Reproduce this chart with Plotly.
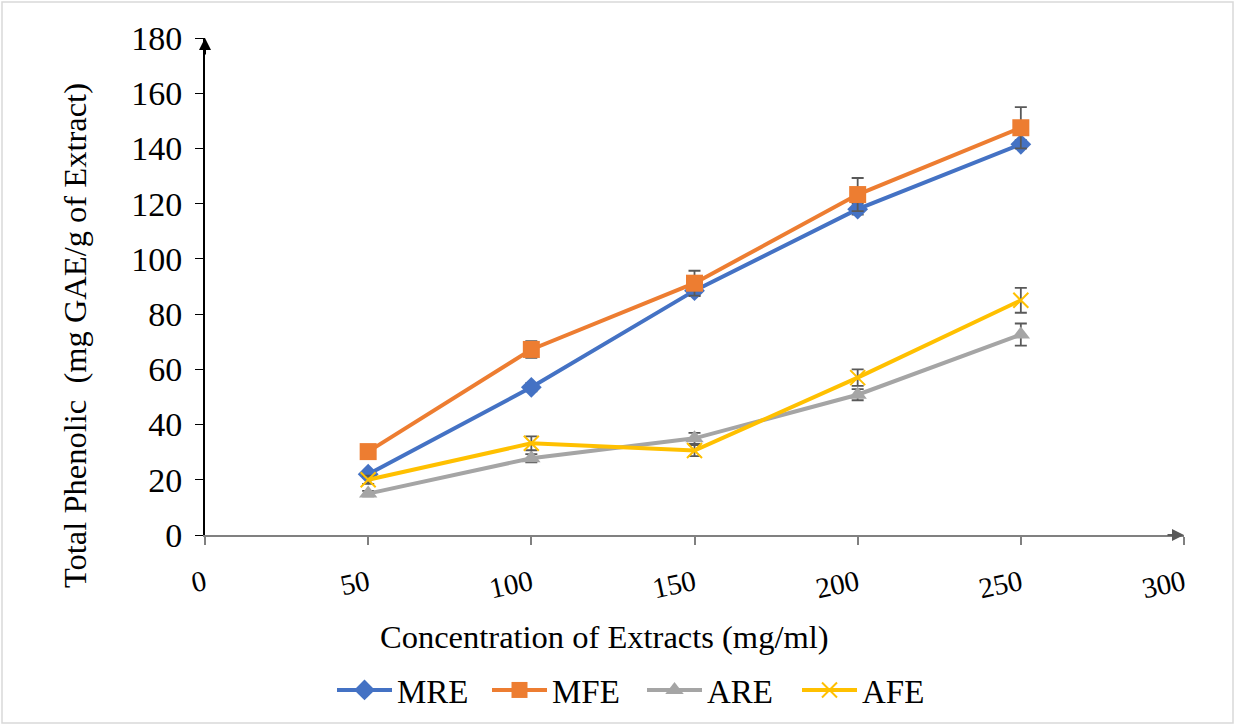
import plotly.graph_objects as go

conc = [50, 100, 150, 200, 250]
mre = [22, 53.5, 88.5, 118, 141.5]
mfe = [30.2, 67.2, 91.2, 123.3, 147.5]
are = [15, 27.8, 35, 50.8, 72.6]
afe = [20, 33.2, 30.6, 57, 85]
mre_err = [1.2, 1.5, 2.0, 2.0, 1.5]
mfe_err = [1.0, 3.0, 4.5, 6.0, 7.5]
are_err = [1.0, 1.5, 2.0, 2.0, 4.0]
afe_err = [1.5, 2.5, 2.0, 3.0, 4.5]

series = [
    ("MRE", mre, mre_err, "#4472C4", "diamond", 16, None),
    ("MFE", mfe, mfe_err, "#ED7D31", "square", 17, None),
    ("ARE", are, are_err, "#A5A5A5", "triangle-up", 16, None),
    ("AFE", afe, afe_err, "#FFC000", "x-thin", 15, 2),
]

fig = go.Figure()
for name, ys, err, col, sym, sz, lw in series:
    mk = dict(symbol=sym, size=sz, color=col)
    if lw:
        mk["line"] = dict(color=col, width=lw)
    fig.add_trace(go.Scatter(
        x=conc, y=ys, name=name, mode="lines+markers",
        line=dict(color=col, width=4), marker=mk,
        error_y=dict(type="data", array=err, visible=True, color="#595959", thickness=1.8, width=6),
    ))

font = "Liberation Serif, Times New Roman, serif"
L, R, T, B = 205, 51, 38, 190
W, H = 1235, 725
pw, ph = W - L - R, H - T - B

fig.update_layout(
    width=W, height=H,
    margin=dict(l=L, r=R, t=T, b=B, autoexpand=False),
    paper_bgcolor="white", plot_bgcolor="white",
    font=dict(family=font, color="black", size=28),
    showlegend=True,
    legend=dict(orientation="h", x=(332 - L) / pw, xanchor="left", y=-155 / ph, yanchor="middle",
                font=dict(size=33, family=font), traceorder="normal",
                itemwidth=55, entrywidth=85, entrywidthmode="pixels"),
    xaxis=dict(range=[0, 300], tickvals=[0, 50, 100, 150, 200, 250, 300], tickangle=-12,
               tickfont=dict(size=29),
               showgrid=False, zeroline=False, showline=True, linecolor="#808080", linewidth=2,
               ticks="outside", ticklen=8, tickcolor="#808080", tickwidth=1.5,
               ticklabelstandoff=10),
    yaxis=dict(range=[0, 180], dtick=20, showgrid=False, zeroline=False, showline=True,
               tickfont=dict(size=34),
               linecolor="black", linewidth=2, ticks="outside", ticklen=8, tickcolor="black",
               ticklabelstandoff=6),
)

# axis titles
fig.add_annotation(text="Concentration of Extracts (mg/ml)", xref="paper", yref="paper",
                   x=(604 - L) / pw, y=-(637 - (T + ph)) / ph, xanchor="center", yanchor="middle",
                   showarrow=False, font=dict(size=32.5, family=font))
fig.add_annotation(text="Total Phenolic  (mg GAE/g of Extract)", xref="paper", yref="paper",
                   x=(75 - L) / pw, y=1 - (336 - T) / ph, xanchor="center", yanchor="middle",
                   textangle=-90, showarrow=False, font=dict(size=32.5, family=font))

# axis arrows
fig.add_annotation(x=0, y=180, xref="x", yref="y", ax=0, ay=18,
                   showarrow=True, arrowhead=2, arrowsize=1.2, arrowwidth=2, arrowcolor="black", text="")
fig.add_annotation(x=300, y=0, xref="x", yref="y", ax=-18, ay=0,
                   showarrow=True, arrowhead=2, arrowsize=1.2, arrowwidth=2, arrowcolor="#595959", text="")

# outer border
fig.add_shape(type="rect", xref="paper", yref="paper",
              x0=-(L - 2) / pw, x1=1 + (R - 2) / pw, y0=-(B - 2) / ph, y1=1 + (T - 2) / ph,
              line=dict(color="#D9D9D9", width=1.5), fillcolor="rgba(0,0,0,0)", layer="below")

fig.write_html("out.html")
